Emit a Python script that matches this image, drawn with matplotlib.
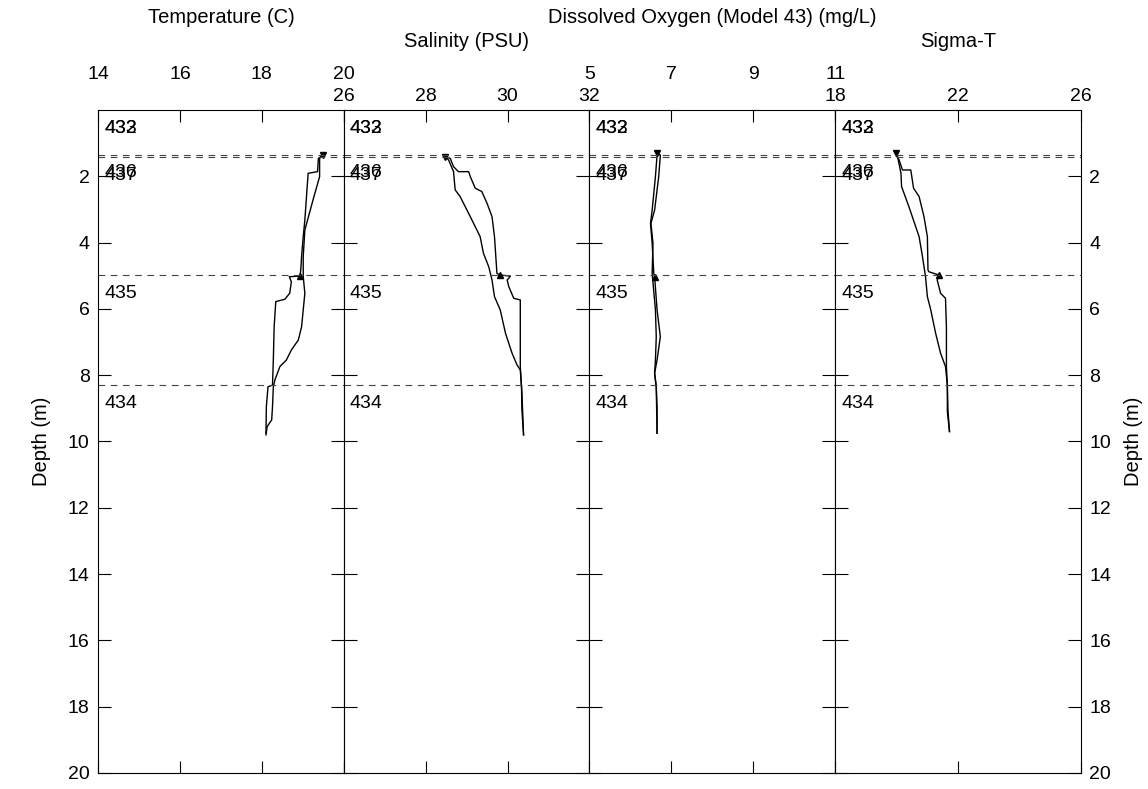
import matplotlib
matplotlib.use("Agg")
import matplotlib.pyplot as plt

plt.rcParams['font.family'] = ['Liberation Sans', 'DejaVu Sans']

# profile data (depth in m, value)
temp_down_depth = [1.36, 1.46, 2.01, 2.71, 3.62, 4.42, 5.03, 5.53, 6.03, 6.54, 6.94, 7.24, 7.54, 7.74, 8.14, 8.35, 8.95, 9.35, 9.55, 9.80]
temp_down = [19.49, 19.41, 19.41, 19.25, 19.05, 19.01, 19.01, 19.05, 19.01, 18.97, 18.89, 18.72, 18.60, 18.44, 18.32, 18.28, 18.26, 18.24, 18.13, 18.10]
temp_up_depth = [9.75, 8.95, 8.35, 8.30, 7.54, 6.54, 5.78, 5.71, 5.53, 5.18, 5.03, 5.01, 4.83, 4.42, 3.82, 3.32, 2.61, 1.91, 1.86, 1.46, 1.36]
temp_up = [18.10, 18.11, 18.15, 18.26, 18.28, 18.30, 18.34, 18.56, 18.68, 18.72, 18.67, 18.93, 18.95, 18.97, 19.01, 19.05, 19.09, 19.13, 19.36, 19.38, 19.49]

sal_down_depth = [1.41, 1.51, 1.86, 2.41, 2.61, 3.22, 3.62, 3.82, 4.32, 4.73, 5.13, 5.63, 6.03, 6.74, 7.34, 7.69, 7.84, 8.35, 9.05, 9.80]
sal_down = [28.48, 28.56, 28.68, 28.72, 28.84, 29.09, 29.25, 29.33, 29.41, 29.54, 29.62, 29.68, 29.82, 29.95, 30.11, 30.23, 30.31, 30.34, 30.35, 30.39]
sal_up_depth = [9.80, 8.55, 7.74, 6.54, 5.73, 5.68, 5.33, 5.13, 5.01, 4.98, 4.93, 3.82, 3.22, 2.82, 2.46, 2.36, 2.01, 1.86, 1.86, 1.71, 1.46, 1.41]
sal_up = [30.39, 30.35, 30.31, 30.31, 30.31, 30.15, 30.03, 29.99, 30.07, 29.82, 29.74, 29.68, 29.62, 29.50, 29.37, 29.21, 29.09, 29.05, 28.80, 28.68, 28.60, 28.48]

do_down_depth = [1.31, 1.36, 2.01, 3.02, 3.42, 4.02, 4.93, 6.03, 6.84, 7.54, 7.94, 8.35, 9.75]
do_down = [6.65, 6.73, 6.69, 6.59, 6.50, 6.55, 6.53, 6.61, 6.63, 6.61, 6.59, 6.63, 6.65]
do_up_depth = [9.75, 9.00, 8.35, 7.94, 7.54, 6.84, 6.03, 5.03, 4.93, 4.02, 3.42, 3.02, 2.01, 1.36, 1.31]
do_up = [6.65, 6.65, 6.63, 6.59, 6.65, 6.73, 6.65, 6.59, 6.57, 6.53, 6.49, 6.53, 6.61, 6.65, 6.65]

sig_down_depth = [1.31, 1.41, 1.91, 2.31, 2.92, 3.52, 3.82, 4.42, 5.03, 5.63, 6.03, 6.74, 7.34, 7.74, 8.30, 9.05, 9.70]
sig_down = [19.97, 20.03, 20.14, 20.16, 20.40, 20.62, 20.73, 20.84, 20.94, 21.00, 21.11, 21.27, 21.43, 21.59, 21.65, 21.67, 21.72]
sig_up_depth = [9.70, 9.10, 8.27, 7.74, 6.54, 5.68, 5.53, 5.13, 4.98, 4.88, 4.83, 3.82, 3.22, 2.61, 2.36, 1.81, 1.81, 1.51, 1.31]
sig_up = [21.72, 21.65, 21.65, 21.62, 21.62, 21.59, 21.43, 21.32, 21.38, 21.05, 21.02, 21.00, 20.89, 20.73, 20.55, 20.46, 20.19, 20.08, 19.97]

# bottle stops
bottle_ids = ['432', '433', '434', '435', '436', '437']
bottle_depths = [0.0, 0.0, 8.30, 4.98, 1.35, 1.43]

titles = ['Temperature (C)', 'Salinity (PSU)', 'Dissolved Oxygen (Model 43) (mg/L)', 'Sigma-T']
xlims = [(14, 20), (26, 32), (5, 11), (18, 26)]
xticks = [[14, 16, 18, 20], [26, 28, 30, 32], [5, 7, 9, 11], [18, 22, 26]]
depth_ticks = [2, 4, 6, 8, 10, 12, 14, 16, 18, 20]

profiles = [(temp_down_depth, temp_down, temp_up_depth, temp_up),
            (sal_down_depth, sal_down, sal_up_depth, sal_up),
            (do_down_depth, do_down, do_up_depth, do_up),
            (sig_down_depth, sig_down, sig_up_depth, sig_up)]

fig = plt.figure(figsize=(11.48, 7.89), dpi=100)
axes = fig.subplots(1, 4)
fig.subplots_adjust(left=0.0854, right=0.9416, bottom=0.0203, top=0.8606, wspace=0)

fs = 14.5
for i, ax in enumerate(axes):
    dd, dv, ud, uv = profiles[i]
    ax.plot(dv, dd, color='black', lw=1.0)
    ax.plot(uv, ud, color='black', lw=1.0)
    ax.plot([dv[0]], [dd[0]], marker='v', color='black', ms=5)
    # little arrowhead where the cast paused at 435
    k = min(range(len(ud)), key=lambda j: abs(ud[j] - bottle_depths[3]))
    ax.plot([uv[k]], [ud[k]], marker='^', color='black', ms=4)

    for bid, bd in zip(bottle_ids, bottle_depths):
        if bd > 0:
            ax.axhline(bd, color='#444444', lw=0.8, dashes=(6, 5))
        ax.text(0.025, bd + 0.55, bid, transform=ax.get_yaxis_transform(),
                fontsize=14, va='center', ha='left')

    ax.set_xlim(*xlims[i])
    ax.set_ylim(20, 0)
    ax.set_xticks(xticks[i])
    ax.set_yticks(depth_ticks)
    row1 = i in (0, 2)
    ax.tick_params(axis='x', top=True, bottom=True, labeltop=True, labelbottom=False,
                   direction='in', length=8.5, width=0.8, labelsize=14,
                   pad=19.5 if row1 else 3.6)
    ax.tick_params(axis='y', left=True, right=True, direction='in', length=9.5,
                   width=0.8, labelsize=14, labelleft=(i == 0), labelright=(i == 3), pad=6)
    for s in ax.spines.values():
        s.set_linewidth(0.8)
    ax.text(0.5, 1.140 if row1 else 1.1026, titles[i], transform=ax.transAxes,
            ha='center', va='center', fontsize=fs)

axes[0].set_ylabel('Depth (m)', fontsize=fs)
axes[0].yaxis.set_label_coords(-0.19, 0.5)
axes[3].yaxis.set_label_position('right')
axes[3].set_ylabel('Depth (m)', fontsize=fs, rotation=90)
axes[3].yaxis.set_label_coords(1.175, 0.5)

fig.savefig('out.png', dpi=100)
